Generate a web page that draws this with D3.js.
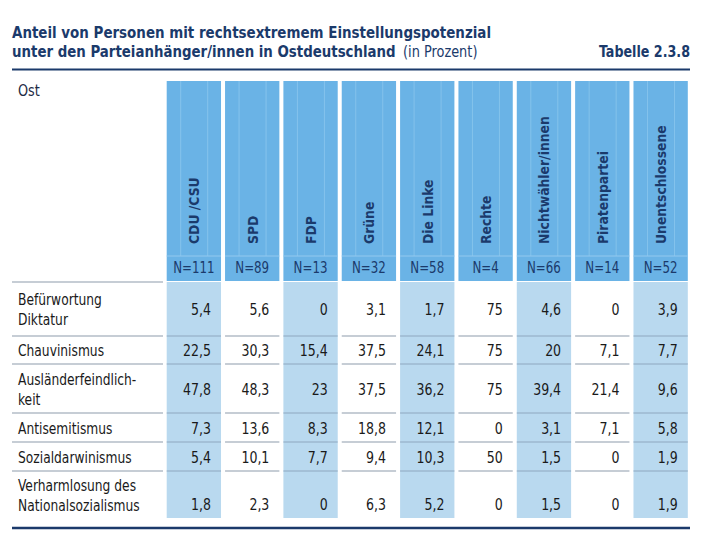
<!DOCTYPE html>
<html>
<head>
<meta charset="utf-8">
<script src="https://cdn.jsdelivr.net/npm/d3@7"></script>
<style>
  html, body { margin: 0; padding: 0; background: #fff; }
  svg text { font-family: "DejaVu Sans Condensed", "Liberation Sans Narrow", "Open Sans", sans-serif; font-stretch: condensed; }
</style>
</head>
<body>
<svg id="chart" width="707" height="550"></svg>
<script>
// ---- data ----
const titleLine1 = "Anteil von Personen mit rechtsextremem Einstellungspotenzial";
const titleLine2Bold = "unter den Parteianhänger/innen in Ostdeutschland";
const titleLine2Regular = "(in Prozent)";
const tableLabel = "Tabelle 2.3.8";
const cornerLabel = "Ost";
const parties = ["CDU /CSU", "SPD", "FDP", "Grüne", "Die Linke", "Rechte", "Nichtwähler/innen", "Piratenpartei", "Unentschlossene"];
const sampleSizes = [111, 89, 13, 32, 58, 4, 66, 14, 52];
const dimensions = [
  ["Befürwortung", "Diktatur"],
  ["Chauvinismus"],
  ["Ausländerfeindlich-", "keit"],
  ["Antisemitismus"],
  ["Sozialdarwinismus"],
  ["Verharmlosung des", "Nationalsozialismus"]
];
const valDiktatur      = [5.4, 5.6, 0, 3.1, 1.7, 75, 4.6, 0, 3.9];
const valChauvinismus  = [22.5, 30.3, 15.4, 37.5, 24.1, 75, 20, 7.1, 7.7];
const valAuslaender    = [47.8, 48.3, 23, 37.5, 36.2, 75, 39.4, 21.4, 9.6];
const valAntisemitismus= [7.3, 13.6, 8.3, 18.8, 12.1, 0, 3.1, 7.1, 5.8];
const valSozialdarw    = [5.4, 10.1, 7.7, 9.4, 10.3, 50, 1.5, 0, 1.9];
const valVerharmlosung = [1.8, 2.3, 0, 6.3, 5.2, 0, 1.5, 0, 1.9];
const values = [valDiktatur, valChauvinismus, valAuslaender, valAntisemitismus, valSozialdarw, valVerharmlosung];

// ---- layout ----
const navy = "#1b3a6b";
const headBlue = "#6ab3e6";
const shadeBlue = "#b9d9ef";
const lineGray = "#8d9bab";
const headTop = 81, nLineY = 256, headBottom = 282;
const rowHeights = [54, 28, 49, 29, 29, 47];
const valueAlignBottom = [false, false, false, false, false, true];

const svg = d3.select("#chart");
const de = d3.formatLocale({decimal: ",", thousands: ".", grouping: [3], currency: ["", " €"]});
const fmt = de.format(".1~f");

const x = d3.scaleBand().domain(parties).range([166.7, 687.8]).paddingInner(0.069).paddingOuter(0);
const bw = x.bandwidth();

// horizontal condensing helpers
function toWidth(sel, target) {
  sel.each(function () {
    const w = this.getComputedTextLength();
    if (w > 0) d3.select(this).attr("textLength", target).attr("lengthAdjust", "spacingAndGlyphs");
  });
  return sel;
}
function condense(sel, factor) {
  sel.each(function () {
    const w = this.getComputedTextLength();
    if (w > 0) d3.select(this).attr("textLength", w * factor).attr("lengthAdjust", "spacingAndGlyphs");
  });
  return sel;
}

// row positions
const rowTops = [];
let acc = headBottom;
rowHeights.forEach(h => { rowTops.push(acc); acc += h; });
const tableBottom = acc;

// Title
toWidth(svg.append("text").attr("x", 12).attr("y", 37.5).attr("font-size", 16).attr("font-weight", "bold")
  .attr("fill", navy).text(titleLine1), 479);
// line 2: one text element, bold + regular, condensed by a horizontal scale
const t2 = svg.append("text").attr("font-size", 16).attr("fill", navy);
const t2b = t2.append("tspan").attr("x", 0).attr("y", 0).attr("font-weight", "bold").text(titleLine2Bold);
const bW = t2b.node().getComputedTextLength();
const sx = 384 / bW;
t2.attr("transform", `translate(12,57) scale(${sx},1)`);
t2.append("tspan").attr("x", (403 - 12) / sx).attr("y", 0).attr("font-size", 15.5).text(titleLine2Regular);

toWidth(svg.append("text").attr("x", 599).attr("y", 57).attr("font-size", 16)
  .attr("font-weight", "bold").attr("fill", navy).text(tableLabel), 91);

// top rule
svg.append("line").attr("x1", 12).attr("x2", 690).attr("y1", 69.5).attr("y2", 69.5)
  .attr("stroke", navy).attr("stroke-width", 2);

condense(svg.append("text").attr("x", 18).attr("y", 96).attr("font-size", 15.5).attr("fill", "#1c2a44").text(cornerLabel), 0.92);

// shaded data columns
svg.selectAll("rect.shade").data(parties.filter((d, i) => i % 2 === 0)).join("rect")
  .attr("class", "shade").attr("x", d => x(d)).attr("width", bw)
  .attr("y", headBottom).attr("height", tableBottom - headBottom).attr("fill", shadeBlue);

// header boxes
const head = svg.selectAll("g.head").data(parties).join("g").attr("class", "head");
head.append("rect").attr("x", d => x(d)).attr("width", bw).attr("y", headTop)
  .attr("height", headBottom - headTop - 1).attr("fill", headBlue);
head.append("line").attr("x1", d => x(d) + 14).attr("x2", d => x(d) + 14)
  .attr("y1", headTop).attr("y2", nLineY).attr("stroke", "#8cc6ee").attr("stroke-width", 0.8);
head.append("line").attr("x1", d => x(d) + 41).attr("x2", d => x(d) + 41)
  .attr("y1", headTop).attr("y2", nLineY).attr("stroke", "#8cc6ee").attr("stroke-width", 0.8);
head.append("line").attr("x1", d => x(d)).attr("x2", d => x(d) + bw)
  .attr("y1", nLineY).attr("y2", nLineY).attr("stroke", "#93c9ef").attr("stroke-width", 1);
head.append("text")
  .attr("transform", d => `translate(${x(d) + bw / 2 + 5.5},244) rotate(-90)`)
  .attr("font-size", 14.5).attr("font-weight", "bold").attr("fill", navy).text(d => d)
  .call(condense, 0.95);
head.append("text").attr("x", d => x(d) + bw / 2).attr("y", 272.5).attr("text-anchor", "middle")
  .attr("font-size", 15.5).attr("fill", navy).text((d, i) => "N=" + sampleSizes[i])
  .call(condense, 0.85);

// label column line under header
svg.append("line").attr("x1", 12).attr("x2", 163).attr("y1", headBottom).attr("y2", headBottom)
  .attr("stroke", lineGray).attr("stroke-width", 1);

// rows
dimensions.forEach((lines, r) => {
  const top = rowTops[r], h = rowHeights[r], mid = top + h / 2;
  const g = svg.append("g");
  lines.forEach((ln, i) => {
    condense(g.append("text").attr("x", 18).attr("y", mid + (i - (lines.length - 1) / 2) * 20 + 6)
      .attr("font-size", 15.5).attr("fill", "#1a1a1a").text(ln), 0.88);
  });
  const vy = valueAlignBottom[r] ? mid + ((lines.length - 1) / 2) * 20 + 5 : mid + 6;
  g.selectAll("text.val").data(values[r]).join("text").attr("class", "val")
    .attr("x", (d, i) => x(parties[i]) + bw - 10).attr("y", vy).attr("text-anchor", "end")
    .attr("font-size", 15.5).attr("fill", "#1a1a1a").text(d => fmt(d))
    .call(condense, 0.9);
  if (r < dimensions.length - 1) {
    const yb = top + h;
    g.append("line").attr("x1", 12).attr("x2", 163).attr("y1", yb).attr("y2", yb)
      .attr("stroke", lineGray).attr("stroke-width", 1);
    g.selectAll("line.sep").data(parties).join("line").attr("class", "sep")
      .attr("x1", d => x(d)).attr("x2", d => x(d) + bw).attr("y1", yb).attr("y2", yb)
      .attr("stroke", (d, i) => i % 2 === 0 ? "#8ea7bf" : lineGray).attr("stroke-width", 1);
  }
});

// bottom rule
svg.append("line").attr("x1", 12).attr("x2", 690).attr("y1", 528).attr("y2", 528)
  .attr("stroke", navy).attr("stroke-width", 2.5);
</script>
</body>
</html>
